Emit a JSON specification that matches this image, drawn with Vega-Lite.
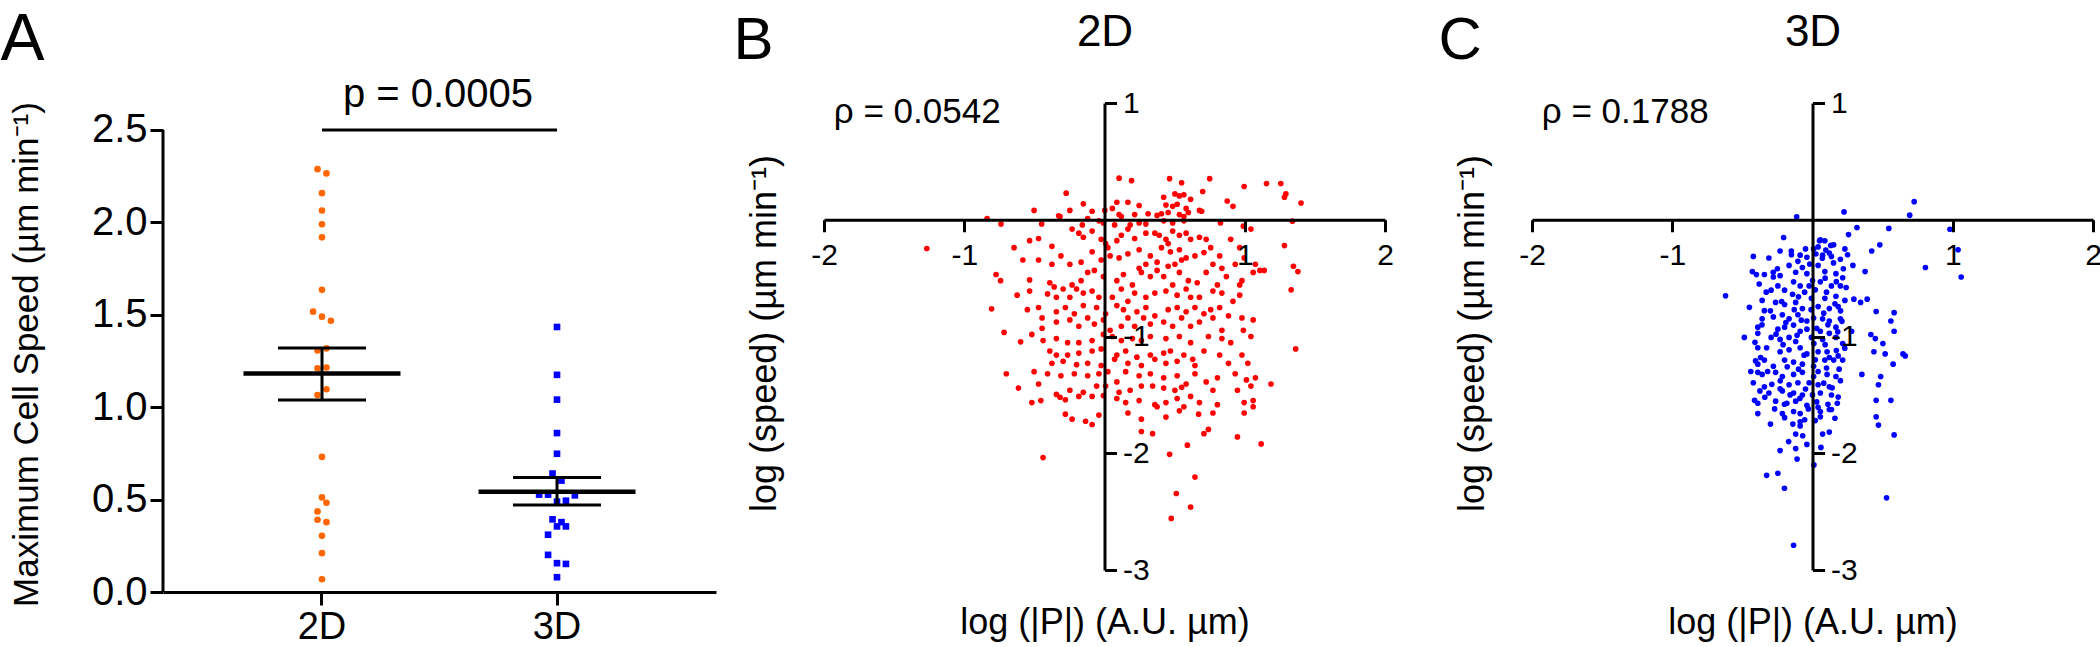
{
"$schema": "https://vega.github.io/schema/vega-lite/v6.json",
"padding": {"left": 0, "top": 6, "right": 0, "bottom": 0},
"autosize": {"type": "pad"},
"background": "white",
"spacing": 108,
"bounds": "flush",
"config": {
  "font": "Liberation Sans",
  "view": {"stroke": null},
  "axis": {"grid": false, "domainColor": "#000", "tickColor": "#000", "labelColor": "#000", "titleColor": "#000", "domainWidth": 3, "tickWidth": 3, "titleFontWeight": "normal", "labelFlush": false, "labelOverlap": false}
},
"datasets": {
  "speeds": [
    {"group":"2D","speed":2.288,"slot":-1},{"group":"2D","speed":2.265,"slot":1},{"group":"2D","speed":2.158,"slot":0},{"group":"2D","speed":2.064,"slot":0},{"group":"2D","speed":1.99,"slot":0},{"group":"2D","speed":1.919,"slot":0},{"group":"2D","speed":1.635,"slot":0},{"group":"2D","speed":1.517,"slot":-2},{"group":"2D","speed":1.49,"slot":0},{"group":"2D","speed":1.468,"slot":2},{"group":"2D","speed":1.307,"slot":-1},{"group":"2D","speed":1.318,"slot":1},{"group":"2D","speed":1.211,"slot":-1},{"group":"2D","speed":1.215,"slot":1},{"group":"2D","speed":1.097,"slot":1},{"group":"2D","speed":1.066,"slot":-1},{"group":"2D","speed":0.731,"slot":0},{"group":"2D","speed":0.512,"slot":0},{"group":"2D","speed":0.483,"slot":1},{"group":"2D","speed":0.436,"slot":-1},{"group":"2D","speed":0.391,"slot":-1},{"group":"2D","speed":0.378,"slot":1},{"group":"2D","speed":0.304,"slot":0},{"group":"2D","speed":0.21,"slot":0},{"group":"2D","speed":0.069,"slot":0},
    {"group":"3D","speed":1.434,"slot":0},{"group":"3D","speed":1.175,"slot":0},{"group":"3D","speed":1.041,"slot":0},{"group":"3D","speed":0.86,"slot":0},{"group":"3D","speed":0.748,"slot":0},{"group":"3D","speed":0.641,"slot":-1},{"group":"3D","speed":0.603,"slot":1},{"group":"3D","speed":0.527,"slot":-4},{"group":"3D","speed":0.527,"slot":-2},{"group":"3D","speed":0.523,"slot":4},{"group":"3D","speed":0.489,"slot":0},{"group":"3D","speed":0.494,"slot":2},{"group":"3D","speed":0.393,"slot":-1},{"group":"3D","speed":0.378,"slot":1},{"group":"3D","speed":0.355,"slot":0},{"group":"3D","speed":0.355,"slot":2},{"group":"3D","speed":0.31,"slot":-2},{"group":"3D","speed":0.201,"slot":-2},{"group":"3D","speed":0.156,"slot":0},{"group":"3D","speed":0.152,"slot":2},{"group":"3D","speed":0.08,"slot":0}
  ],
  "stats": [
    {"group":"2D","mean":1.182,"lo":1.039,"hi":1.32},
    {"group":"3D","mean":0.543,"lo":0.471,"hi":0.619}
  ],
  "sig": [{"from":"2D","to":"3D","level":2.5,"label":"p = 0.0005"}],
  "b2d": [
    {"lp":0.104,"ls":0.356},{"lp":0.193,"ls":0.335},{"lp":0.464,"ls":0.352},{"lp":0.55,"ls":0.317},{"lp":0.75,"ls":0.352},{"lp":1.155,"ls":0.31},{"lp":1.257,"ls":0.31},{"lp":0.996,"ls":0.285},{"lp":1.293,"ls":0.221},{"lp":1.401,"ls":0.143},{"lp":-0.273,"ls":0.228},{"lp":-0.151,"ls":0.136},{"lp":0.502,"ls":0.221},{"lp":0.534,"ls":0.204},{"lp":0.566,"ls":0.214},{"lp":0.422,"ls":0.193},{"lp":0.7,"ls":0.242},{"lp":0.614,"ls":0.175},{"lp":0.875,"ls":0.161},{"lp":0.916,"ls":0.115},{"lp":0.088,"ls":0.15},{"lp":0.167,"ls":0.15},{"lp":0.056,"ls":0.097},{"lp":0.247,"ls":0.122},{"lp":0.438,"ls":0.126},{"lp":0.486,"ls":0.115},{"lp":0.518,"ls":0.133},{"lp":0.582,"ls":0.097},{"lp":0.677,"ls":0.08},{"lp":0.693,"ls":0.073},{"lp":-0.502,"ls":0.08},{"lp":-0.327,"ls":0.034},{"lp":-0.247,"ls":0.08},{"lp":-0.088,"ls":0.073},{"lp":0.002,"ls":0.08},{"lp":0.104,"ls":0.044},{"lp":0.12,"ls":0.027},{"lp":0.215,"ls":0.044},{"lp":0.311,"ls":0.051},{"lp":0.375,"ls":0.037},{"lp":0.406,"ls":0.051},{"lp":0.454,"ls":0.062},{"lp":0.534,"ls":0.044},{"lp":0.566,"ls":0.027},{"lp":0.598,"ls":0.062},
    {"lp":-0.837,"ls":0.009},{"lp":-0.738,"ls":-0.037},{"lp":-0.448,"ls":-0.037},{"lp":-0.317,"ls":0.027},{"lp":-0.158,"ls":-0.044},{"lp":-0.12,"ls":0.009},{"lp":-0.04,"ls":-0.009},{"lp":-0.008,"ls":-0.027},{"lp":0.072,"ls":-0.044},{"lp":0.183,"ls":-0.044},{"lp":0.247,"ls":-0.027},{"lp":0.295,"ls":-0.037},{"lp":0.422,"ls":-0.009},{"lp":0.486,"ls":-0.027},{"lp":0.566,"ls":-0.009},{"lp":0.827,"ls":-0.027},{"lp":0.99,"ls":-0.055},{"lp":1.044,"ls":-0.08},{"lp":1.34,"ls":-0.012},{"lp":1.283,"ls":0.193},
    {"lp":-1.267,"ls":-0.246},{"lp":-0.645,"ls":-0.239},{"lp":-0.534,"ls":-0.179},{"lp":-0.47,"ls":-0.161},{"lp":-0.375,"ls":-0.228},{"lp":-0.231,"ls":-0.08},{"lp":-0.183,"ls":-0.115},{"lp":-0.151,"ls":-0.15},{"lp":-0.088,"ls":-0.097},{"lp":-0.024,"ls":-0.168},{"lp":0.008,"ls":-0.204},{"lp":0.024,"ls":-0.239},{"lp":0.088,"ls":-0.179},{"lp":0.12,"ls":-0.133},{"lp":0.167,"ls":-0.08},{"lp":0.215,"ls":-0.161},{"lp":0.295,"ls":-0.115},{"lp":0.359,"ls":-0.115},{"lp":0.39,"ls":-0.133},{"lp":0.438,"ls":-0.168},{"lp":0.454,"ls":-0.204},{"lp":0.486,"ls":-0.097},{"lp":0.534,"ls":-0.133},{"lp":0.582,"ls":-0.115},{"lp":0.614,"ls":-0.168},{"lp":0.677,"ls":-0.15},{"lp":0.725,"ls":-0.168},{"lp":0.757,"ls":-0.239},{"lp":0.821,"ls":-0.31},{"lp":0.9,"ls":-0.168},{"lp":0.964,"ls":-0.239},{"lp":1.076,"ls":-0.381},{"lp":1.139,"ls":-0.434},{"lp":1.283,"ls":-0.221},{"lp":1.347,"ls":-0.398},{"lp":1.379,"ls":-0.444},{"lp":0.04,"ls":-0.31},{"lp":0.104,"ls":-0.327},{"lp":0.167,"ls":-0.292},{"lp":0.247,"ls":-0.257},{"lp":0.327,"ls":-0.31},{"lp":0.406,"ls":-0.239},{"lp":0.47,"ls":-0.274},{"lp":0.534,"ls":-0.257},{"lp":0.582,"ls":-0.327},{"lp":0.645,"ls":-0.31},{"lp":0.709,"ls":-0.281},{"lp":0.773,"ls":-0.381},{"lp":0.837,"ls":-0.416},{"lp":0.932,"ls":-0.381},{"lp":0.996,"ls":-0.327},{"lp":-0.582,"ls":-0.345},{"lp":-0.47,"ls":-0.345},{"lp":-0.375,"ls":-0.381},{"lp":-0.311,"ls":-0.31},{"lp":-0.247,"ls":-0.381},{"lp":-0.167,"ls":-0.363},{"lp":-0.088,"ls":-0.274},{"lp":-0.024,"ls":-0.345},{"lp":0.247,"ls":-0.416},{"lp":0.295,"ls":-0.381},{"lp":0.375,"ls":-0.363},{"lp":0.454,"ls":-0.398},{"lp":0.502,"ls":-0.381},{"lp":0.55,"ls":-0.345},
    {"lp":-0.773,"ls":-0.469},{"lp":-0.741,"ls":-0.522},{"lp":-0.534,"ls":-0.515},{"lp":-0.39,"ls":-0.54},{"lp":-0.359,"ls":-0.575},{"lp":-0.295,"ls":-0.593},{"lp":-0.231,"ls":-0.558},{"lp":-0.167,"ls":-0.522},{"lp":-0.12,"ls":-0.451},{"lp":-0.072,"ls":-0.434},{"lp":-0.008,"ls":-0.487},{"lp":0.088,"ls":-0.522},{"lp":0.135,"ls":-0.469},{"lp":0.199,"ls":-0.558},{"lp":0.263,"ls":-0.451},{"lp":0.327,"ls":-0.487},{"lp":0.375,"ls":-0.434},{"lp":0.422,"ls":-0.487},{"lp":0.486,"ls":-0.558},{"lp":0.534,"ls":-0.451},{"lp":0.598,"ls":-0.522},{"lp":0.661,"ls":-0.54},{"lp":0.725,"ls":-0.451},{"lp":0.805,"ls":-0.558},{"lp":0.869,"ls":-0.487},{"lp":0.964,"ls":-0.558},{"lp":0.98,"ls":-0.522},{"lp":1.06,"ls":-0.451},{"lp":1.108,"ls":-0.434},{"lp":1.331,"ls":-0.6},{"lp":-0.623,"ls":-0.646},{"lp":-0.534,"ls":-0.611},{"lp":-0.406,"ls":-0.635},{"lp":-0.343,"ls":-0.664},{"lp":-0.247,"ls":-0.664},{"lp":-0.199,"ls":-0.593},{"lp":-0.151,"ls":-0.628},{"lp":-0.088,"ls":-0.611},{"lp":-0.04,"ls":-0.664},{"lp":0.056,"ls":-0.664},{"lp":0.12,"ls":-0.593},{"lp":0.167,"ls":-0.699},{"lp":0.215,"ls":-0.628},{"lp":0.295,"ls":-0.664},{"lp":0.359,"ls":-0.628},{"lp":0.438,"ls":-0.611},{"lp":0.518,"ls":-0.646},{"lp":0.582,"ls":-0.593},{"lp":0.614,"ls":-0.664},{"lp":0.677,"ls":-0.664},{"lp":0.773,"ls":-0.611},{"lp":0.837,"ls":-0.628},{"lp":0.916,"ls":-0.699},{"lp":0.964,"ls":-0.646},{"lp":-0.805,"ls":-0.763},{"lp":-0.55,"ls":-0.77},{"lp":-0.47,"ls":-0.752},{"lp":-0.343,"ls":-0.788},{"lp":-0.279,"ls":-0.752},{"lp":-0.215,"ls":-0.805},{"lp":-0.151,"ls":-0.735},{"lp":-0.056,"ls":-0.752},{"lp":0.008,"ls":-0.805},{"lp":0.088,"ls":-0.735},{"lp":0.135,"ls":-0.77},{"lp":0.231,"ls":-0.788},{"lp":0.295,"ls":-0.752},{"lp":0.359,"ls":-0.823},{"lp":0.454,"ls":-0.77},{"lp":0.518,"ls":-0.752},{"lp":0.582,"ls":-0.788},{"lp":0.645,"ls":-0.752},{"lp":0.709,"ls":-0.805},{"lp":0.757,"ls":-0.77},{"lp":0.821,"ls":-0.752},{"lp":0.884,"ls":-0.823},
    {"lp":-0.716,"ls":-0.965},{"lp":-0.598,"ls":-1.046},{"lp":-0.445,"ls":-0.841},{"lp":-0.445,"ls":-0.929},{"lp":-0.343,"ls":-0.876},{"lp":-0.247,"ls":-0.858},{"lp":-0.183,"ls":-0.912},{"lp":-0.12,"ls":-0.841},{"lp":-0.072,"ls":-0.894},{"lp":-0.008,"ls":-0.858},{"lp":0.04,"ls":-0.947},{"lp":0.12,"ls":-0.912},{"lp":0.167,"ls":-0.841},{"lp":0.215,"ls":-0.912},{"lp":0.279,"ls":-0.841},{"lp":0.327,"ls":-0.894},{"lp":0.422,"ls":-0.876},{"lp":0.486,"ls":-0.912},{"lp":0.55,"ls":-0.841},{"lp":0.614,"ls":-0.912},{"lp":0.677,"ls":-0.876},{"lp":0.773,"ls":-0.841},{"lp":0.837,"ls":-0.947},{"lp":0.98,"ls":-0.841},{"lp":1.06,"ls":-0.858},{"lp":1.044,"ls":-1.0},{"lp":0.99,"ls":-0.947},{"lp":-0.518,"ls":-0.982},{"lp":-0.438,"ls":-1.035},{"lp":-0.343,"ls":-1.018},{"lp":-0.263,"ls":-1.053},{"lp":-0.183,"ls":-1.053},{"lp":-0.088,"ls":-1.035},{"lp":-0.008,"ls":-0.982},{"lp":0.056,"ls":-1.0},{"lp":0.12,"ls":-1.035},{"lp":0.199,"ls":-1.018},{"lp":0.263,"ls":-1.035},{"lp":0.327,"ls":-1.0},{"lp":0.438,"ls":-1.018},{"lp":0.534,"ls":-1.0},{"lp":0.614,"ls":-1.053},{"lp":0.741,"ls":-1.0},{"lp":0.837,"ls":-1.018},{"lp":0.9,"ls":-1.053},{"lp":1.363,"ls":-1.106},{"lp":-0.39,"ls":-1.124},{"lp":-0.343,"ls":-1.159},{"lp":-0.263,"ls":-1.159},{"lp":-0.183,"ls":-1.142},{"lp":-0.088,"ls":-1.124},{"lp":-0.024,"ls":-1.106},{"lp":0.088,"ls":-1.159},{"lp":0.151,"ls":-1.124},{"lp":0.231,"ls":-1.177},{"lp":0.327,"ls":-1.159},{"lp":0.422,"ls":-1.142},{"lp":0.47,"ls":-1.124},{"lp":0.566,"ls":-1.159},{"lp":0.629,"ls":-1.195},{"lp":0.709,"ls":-1.124},{"lp":0.821,"ls":-1.159},{"lp":0.98,"ls":-1.159},{"lp":1.022,"ls":-1.23},{"lp":-0.375,"ls":-1.23},{"lp":-0.295,"ls":-1.212},{"lp":-0.199,"ls":-1.241},{"lp":-0.12,"ls":-1.23},{"lp":-0.024,"ls":-1.248},{"lp":0.072,"ls":-1.195},{"lp":0.167,"ls":-1.23},{"lp":0.263,"ls":-1.248},{"lp":0.359,"ls":-1.195},{"lp":0.438,"ls":-1.23},{"lp":0.518,"ls":-1.212},{"lp":0.645,"ls":-1.248},{"lp":0.884,"ls":-1.23},
    {"lp":-0.7,"ls":-1.319},{"lp":-0.502,"ls":-1.301},{"lp":-0.406,"ls":-1.319},{"lp":-0.311,"ls":-1.336},{"lp":-0.215,"ls":-1.319},{"lp":-0.12,"ls":-1.336},{"lp":-0.04,"ls":-1.319},{"lp":0.024,"ls":-1.301},{"lp":0.088,"ls":-1.389},{"lp":0.151,"ls":-1.301},{"lp":0.247,"ls":-1.336},{"lp":0.327,"ls":-1.319},{"lp":0.422,"ls":-1.354},{"lp":0.518,"ls":-1.336},{"lp":0.582,"ls":-1.407},{"lp":0.645,"ls":-1.319},{"lp":0.725,"ls":-1.389},{"lp":0.805,"ls":-1.354},{"lp":0.932,"ls":-1.319},{"lp":1.012,"ls":-1.372},{"lp":1.076,"ls":-1.354},{"lp":1.187,"ls":-1.407},{"lp":-0.614,"ls":-1.442},{"lp":-0.47,"ls":-1.407},{"lp":-0.343,"ls":-1.496},{"lp":-0.247,"ls":-1.46},{"lp":-0.151,"ls":-1.478},{"lp":-0.056,"ls":-1.425},{"lp":0.008,"ls":-1.425},{"lp":0.104,"ls":-1.478},{"lp":0.183,"ls":-1.46},{"lp":0.263,"ls":-1.425},{"lp":0.343,"ls":-1.425},{"lp":0.422,"ls":-1.442},{"lp":0.502,"ls":-1.46},{"lp":0.55,"ls":-1.435},{"lp":0.614,"ls":-1.513},{"lp":0.773,"ls":-1.46},{"lp":0.948,"ls":-1.46},{"lp":1.044,"ls":-1.425},{"lp":1.06,"ls":-1.549},{"lp":-0.518,"ls":-1.566},{"lp":-0.454,"ls":-1.549},{"lp":-0.317,"ls":-1.52},{"lp":-0.279,"ls":-1.542},{"lp":-0.183,"ls":-1.513},{"lp":-0.088,"ls":-1.513},{"lp":-0.008,"ls":-1.506},{"lp":0.088,"ls":-1.531},{"lp":0.151,"ls":-1.566},{"lp":0.247,"ls":-1.549},{"lp":0.359,"ls":-1.584},{"lp":0.438,"ls":-1.566},{"lp":0.518,"ls":-1.531},{"lp":0.566,"ls":-1.602},{"lp":0.677,"ls":-1.566},{"lp":0.805,"ls":-1.584},{"lp":0.996,"ls":-1.566},{"lp":1.06,"ls":-1.602},
    {"lp":-0.279,"ls":-1.665},{"lp":-0.231,"ls":-1.708},{"lp":-0.135,"ls":-1.726},{"lp":-0.088,"ls":-1.754},{"lp":-0.04,"ls":-1.673},{"lp":0.167,"ls":-1.655},{"lp":0.263,"ls":-1.708},{"lp":0.375,"ls":-1.602},{"lp":0.438,"ls":-1.69},{"lp":0.534,"ls":-1.637},{"lp":0.671,"ls":-1.665},{"lp":0.773,"ls":-1.655},{"lp":0.996,"ls":-1.655},{"lp":0.263,"ls":-1.814},{"lp":0.343,"ls":-1.832},{"lp":0.741,"ls":-1.796},{"lp":0.709,"ls":-1.832},{"lp":0.948,"ls":-1.86},{"lp":1.117,"ls":-1.92},{"lp":-0.438,"ls":-2.037},{"lp":0.464,"ls":-2.009},{"lp":0.591,"ls":-1.931},{"lp":0.645,"ls":-2.204},{"lp":0.512,"ls":-2.345},{"lp":0.614,"ls":-2.462},{"lp":0.476,"ls":-2.558}
  ],
  "c3d": [
    {"lp":0.725,"ls":0.155},{"lp":0.693,"ls":0.039},{"lp":0.225,"ls":0.067},{"lp":-0.113,"ls":0.025},{"lp":0.544,"ls":-0.074},{"lp":0.317,"ls":-0.067},{"lp":0.98,"ls":-0.081},{"lp":0.257,"ls":-0.127},{"lp":0.48,"ls":-0.215},{"lp":0.422,"ls":-0.268},{"lp":1.038,"ls":-0.257},{"lp":0.805,"ls":-0.409},{"lp":1.06,"ls":-0.49},
    {"lp":-0.206,"ls":-0.152},{"lp":0.056,"ls":-0.173},{"lp":0.088,"ls":-0.18},{"lp":0.151,"ls":-0.215},{"lp":0.231,"ls":-0.25},{"lp":0.008,"ls":-0.25},{"lp":0.04,"ls":-0.233},{"lp":0.095,"ls":-0.26},{"lp":0.12,"ls":-0.285},{"lp":-0.422,"ls":-0.314},{"lp":-0.231,"ls":-0.268},{"lp":-0.151,"ls":-0.268},{"lp":-0.311,"ls":-0.328},{"lp":-0.088,"ls":-0.303},{"lp":-0.04,"ls":-0.321},{"lp":0.024,"ls":-0.293},{"lp":0.072,"ls":-0.303},{"lp":0.135,"ls":-0.314},{"lp":0.199,"ls":-0.338},{"lp":0.288,"ls":-0.391},{"lp":0.375,"ls":-0.444},{"lp":-0.429,"ls":-0.444},{"lp":-0.343,"ls":-0.469},{"lp":-0.279,"ls":-0.49},{"lp":-0.231,"ls":-0.479},{"lp":-0.167,"ls":-0.391},{"lp":-0.104,"ls":-0.356},{"lp":-0.072,"ls":-0.409},{"lp":-0.04,"ls":-0.462},{"lp":0.04,"ls":-0.391},{"lp":0.088,"ls":-0.444},{"lp":0.167,"ls":-0.462},{"lp":0.215,"ls":-0.497},{"lp":-0.135,"ls":-0.532},{"lp":-0.088,"ls":-0.567},{"lp":-0.024,"ls":-0.567},{"lp":0.056,"ls":-0.532},{"lp":0.135,"ls":-0.567},{"lp":0.199,"ls":-0.567},{"lp":-0.295,"ls":-0.603},{"lp":-0.247,"ls":-0.567},{"lp":-0.199,"ls":-0.603},{"lp":-0.142,"ls":-0.638},{"lp":-0.056,"ls":-0.62},{"lp":-0.008,"ls":-0.673},{"lp":0.088,"ls":-0.673},{"lp":0.167,"ls":-0.655},{"lp":0.231,"ls":-0.691},{"lp":0.295,"ls":-0.68},{"lp":0.39,"ls":-0.68},{"lp":0.343,"ls":-0.708},{"lp":-0.62,"ls":-0.652},{"lp":-0.359,"ls":-0.691},{"lp":-0.263,"ls":-0.708},{"lp":-0.199,"ls":-0.726},{"lp":-0.12,"ls":-0.708},{"lp":-0.072,"ls":-0.761},{"lp":0.04,"ls":-0.744},{"lp":0.12,"ls":-0.761},{"lp":0.183,"ls":-0.744},{"lp":0.454,"ls":-0.786},{"lp":0.582,"ls":-0.796},{"lp":-0.343,"ls":-0.779},{"lp":-0.279,"ls":-0.832},{"lp":-0.359,"ls":-0.849},{"lp":-0.215,"ls":-0.814},{"lp":-0.167,"ls":-0.849},{"lp":-0.104,"ls":-0.814},{"lp":-0.04,"ls":-0.867},{"lp":0.008,"ls":-0.842},{"lp":0.072,"ls":-0.849},{"lp":0.12,"ls":-0.867},{"lp":0.199,"ls":-0.849},{"lp":0.559,"ls":-0.867},{"lp":-0.39,"ls":-0.92},{"lp":-0.247,"ls":-0.937},{"lp":-0.199,"ls":-0.92},{"lp":-0.135,"ls":-0.902},{"lp":-0.088,"ls":-0.955},{"lp":-0.04,"ls":-0.937},{"lp":0.056,"ls":-0.955},{"lp":0.12,"ls":-0.973},{"lp":0.167,"ls":-0.92},{"lp":0.279,"ls":-0.955},{"lp":0.416,"ls":-0.983},{"lp":0.448,"ls":-1.018},{"lp":0.582,"ls":-0.955},{"lp":-0.486,"ls":-1.008},{"lp":-0.39,"ls":-0.973},{"lp":-0.295,"ls":-1.008},{"lp":-0.231,"ls":-1.025},{"lp":-0.167,"ls":-1.008},{"lp":-0.12,"ls":-1.043},{"lp":-0.008,"ls":-1.008},{"lp":0.072,"ls":-1.025},{"lp":0.167,"ls":-1.008},{"lp":0.215,"ls":-1.061},{"lp":0.502,"ls":-1.061},{"lp":0.438,"ls":-1.131},{"lp":-0.39,"ls":-1.096},{"lp":-0.327,"ls":-1.096},{"lp":-0.231,"ls":-1.131},{"lp":-0.167,"ls":-1.114},{"lp":-0.088,"ls":-1.096},{"lp":-0.04,"ls":-1.149},{"lp":0.04,"ls":-1.131},{"lp":0.104,"ls":-1.131},{"lp":0.183,"ls":-1.166},{"lp":0.518,"ls":-1.149},{"lp":0.645,"ls":-1.149},{"lp":0.661,"ls":-1.166},{"lp":-0.406,"ls":-1.209},{"lp":-0.39,"ls":-1.237},{"lp":-0.343,"ls":-1.202},{"lp":-0.279,"ls":-1.255},{"lp":-0.199,"ls":-1.202},{"lp":-0.135,"ls":-1.219},{"lp":-0.072,"ls":-1.237},{"lp":0.008,"ls":-1.255},{"lp":0.088,"ls":-1.202},{"lp":0.151,"ls":-1.202},{"lp":0.215,"ls":-1.202},{"lp":0.575,"ls":-1.237},{"lp":-0.39,"ls":-1.307},{"lp":-0.359,"ls":-1.325},{"lp":-0.263,"ls":-1.307},{"lp":-0.215,"ls":-1.343},{"lp":-0.135,"ls":-1.325},{"lp":-0.072,"ls":-1.307},{"lp":0.008,"ls":-1.343},{"lp":0.104,"ls":-1.325},{"lp":0.167,"ls":-1.343},{"lp":0.352,"ls":-1.325},{"lp":0.486,"ls":-1.343},{"lp":-0.422,"ls":-1.396},{"lp":-0.343,"ls":-1.431},{"lp":-0.231,"ls":-1.448},{"lp":-0.167,"ls":-1.413},{"lp":-0.104,"ls":-1.396},{"lp":-0.024,"ls":-1.396},{"lp":0.04,"ls":-1.413},{"lp":0.12,"ls":-1.431},{"lp":0.199,"ls":-1.378},{"lp":0.47,"ls":-1.413},{"lp":-0.375,"ls":-1.466},{"lp":-0.311,"ls":-1.484},{"lp":-0.215,"ls":-1.466},{"lp":-0.135,"ls":-1.484},{"lp":-0.072,"ls":-1.501},{"lp":0.056,"ls":-1.484},{"lp":0.135,"ls":-1.501},{"lp":0.183,"ls":-1.519},{"lp":-0.413,"ls":-1.547},{"lp":-0.39,"ls":-1.572},{"lp":-0.263,"ls":-1.554},{"lp":-0.183,"ls":-1.572},{"lp":-0.12,"ls":-1.554},{"lp":-0.04,"ls":-1.589},{"lp":0.04,"ls":-1.607},{"lp":0.12,"ls":-1.625},{"lp":0.177,"ls":-1.572},{"lp":0.454,"ls":-1.547},{"lp":0.559,"ls":-1.547},{"lp":-0.39,"ls":-1.66},{"lp":-0.215,"ls":-1.66},{"lp":-0.135,"ls":-1.642},{"lp":-0.088,"ls":-1.66},{"lp":0.056,"ls":-1.642},{"lp":0.135,"ls":-1.625},{"lp":0.454,"ls":-1.688},{"lp":0.47,"ls":-1.759},{"lp":-0.199,"ls":-1.695},{"lp":-0.088,"ls":-1.73},{"lp":-0.056,"ls":-1.713},{"lp":0.056,"ls":-1.688},{"lp":-0.088,"ls":-1.766},{"lp":-0.12,"ls":-1.836},{"lp":0.072,"ls":-1.836},{"lp":0.12,"ls":-1.819},{"lp":0.582,"ls":-1.843},{"lp":-0.04,"ls":-1.924},{"lp":-0.231,"ls":-1.977},{"lp":-0.12,"ls":-1.96},{"lp":-0.327,"ls":-2.189},{"lp":-0.247,"ls":-2.171},{"lp":0.528,"ls":-2.382},{"lp":-0.135,"ls":-2.788},
    {"lp":-0.38,"ls":-0.55},{"lp":-0.33,"ls":-0.62},{"lp":-0.3,"ls":-0.78},{"lp":-0.36,"ls":-0.9},{"lp":-0.41,"ls":-1.05},{"lp":-0.37,"ls":-1.18},{"lp":-0.32,"ls":-1.3},{"lp":-0.29,"ls":-1.41},{"lp":-0.34,"ls":-1.52},{"lp":-0.27,"ls":-1.62},{"lp":-0.25,"ls":-0.42},{"lp":-0.22,"ls":-0.7},{"lp":-0.19,"ls":-0.88},{"lp":-0.26,"ls":-0.98},{"lp":-0.21,"ls":-1.07},{"lp":-0.18,"ls":-1.26},{"lp":-0.23,"ls":-1.38},{"lp":-0.16,"ls":-1.5},{"lp":-0.2,"ls":-1.58},{"lp":-0.14,"ls":-1.75},{"lp":-0.12,"ls":-0.45},{"lp":-0.1,"ls":-0.66},{"lp":-0.13,"ls":-0.77},{"lp":-0.08,"ls":-0.86},{"lp":-0.11,"ls":-0.99},{"lp":-0.06,"ls":-1.16},{"lp":-0.1,"ls":-1.28},{"lp":-0.05,"ls":-1.45},{"lp":-0.09,"ls":-1.53},{"lp":-0.03,"ls":-1.62},{"lp":-0.02,"ls":-0.38},{"lp":0.0,"ls":-0.52},{"lp":0.02,"ls":-0.6},{"lp":-0.01,"ls":-0.77},{"lp":0.03,"ls":-0.93},{"lp":0.01,"ls":-1.06},{"lp":0.02,"ls":-1.2},{"lp":0.04,"ls":-1.3},{"lp":0.0,"ls":-1.5},{"lp":0.03,"ls":-1.56},{"lp":0.07,"ls":-0.33},{"lp":0.09,"ls":-0.5},{"lp":0.1,"ls":-0.62},{"lp":0.08,"ls":-0.8},{"lp":0.11,"ls":-0.9},{"lp":0.09,"ls":-1.07},{"lp":0.12,"ls":-1.18},{"lp":0.1,"ls":-1.27},{"lp":0.08,"ls":-1.4},{"lp":0.11,"ls":-1.58},{"lp":0.15,"ls":-0.37},{"lp":0.17,"ls":-0.53},{"lp":0.16,"ls":-0.72},{"lp":0.18,"ls":-0.96},{"lp":0.17,"ls":-1.12},{"lp":0.19,"ls":-1.28},{"lp":0.14,"ls":-1.44},{"lp":0.2,"ls":-0.78},{"lp":0.22,"ls":-0.42},{"lp":0.24,"ls":-0.58},{"lp":0.21,"ls":-0.87},{"lp":0.23,"ls":-1.1},{"lp":0.25,"ls":-0.3},{"lp":-0.45,"ls":-0.75},{"lp":-0.44,"ls":-1.3},{"lp":-0.4,"ls":-0.47},{"lp":-0.05,"ls":-0.25},{"lp":0.05,"ls":-0.18},{"lp":-0.15,"ls":-0.3},{"lp":0.13,"ls":-0.22},{"lp":-0.28,"ls":-0.45},{"lp":0.02,"ls":-1.72},{"lp":-0.07,"ls":-1.85},{"lp":0.06,"ls":-1.95},{"lp":-0.17,"ls":-1.9},{"lp":-0.3,"ls":-1.75},{"lp":0.16,"ls":-1.7},{"lp":-0.11,"ls":-2.05},{"lp":0.01,"ls":-2.1},{"lp":-0.2,"ls":-2.3}
  ]
},
"hconcat": [
  {
    "width": 553, "height": 489,
    "resolve": {"axis": {"x": "independent", "y": "independent"}},
    "layer": [
      {
        "data": {"name": "speeds"},
        "mark": {"type": "point", "filled": true, "opacity": 1, "size": 44},
        "encoding": {
          "x": {"field": "group", "type": "nominal", "scale": {"type": "band", "domain": ["2D", "3D"], "paddingInner": 0, "paddingOuter": 0.1765},
                "axis": {"orient": "bottom", "title": null, "labelAngle": 0, "labelFontSize": 38, "labelPadding": 3, "tickSize": 13, "zindex": 1}},
          "xOffset": {"field": "slot", "type": "quantitative", "scale": {"domain": [-4, 4], "range": [99.65, 135.35]}},
          "y": {"field": "speed", "type": "quantitative", "scale": {"domain": [0, 2.646], "nice": false, "zero": false},
                "axis": {"orient": "left", "values": [0, 0.5, 1, 1.5, 2, 2.5], "format": ".1f", "domain": false, "tickSize": 13, "labelFontSize": 40, "labelPadding": 3,
                         "title": "Maximum Cell Speed (µm min⁻¹)", "titleFontSize": 35, "titleX": -125.5, "titleY": 251, "titleAngle": 270, "titleAlign": "center", "titleBaseline": "alphabetic"}},
          "color": {"field": "group", "type": "nominal", "scale": {"domain": ["2D", "3D"], "range": ["#FF6600", "#0000FF"]}, "legend": null},
          "shape": {"field": "group", "type": "nominal", "scale": {"domain": ["2D", "3D"], "range": ["circle", "square"]}, "legend": null}
        }
      },
      {
        "data": {"name": "stats"},
        "mark": {"type": "tick", "color": "#000", "size": 157, "thickness": 4.5, "opacity": 1},
        "encoding": {"x": {"field": "group", "type": "nominal", "axis": null}, "y": {"field": "mean", "type": "quantitative", "axis": null}}
      },
      {
        "data": {"name": "stats"},
        "mark": {"type": "rule", "color": "#000", "strokeWidth": 3},
        "encoding": {"x": {"field": "group", "type": "nominal", "axis": null}, "y": {"field": "lo", "type": "quantitative", "axis": null}, "y2": {"field": "hi"}}
      },
      {
        "data": {"name": "stats"},
        "mark": {"type": "tick", "color": "#000", "size": 88, "thickness": 3, "opacity": 1},
        "encoding": {"x": {"field": "group", "type": "nominal", "axis": null}, "y": {"field": "lo", "type": "quantitative", "axis": null}}
      },
      {
        "data": {"name": "stats"},
        "mark": {"type": "tick", "color": "#000", "size": 88, "thickness": 3, "opacity": 1},
        "encoding": {"x": {"field": "group", "type": "nominal", "axis": null}, "y": {"field": "hi", "type": "quantitative", "axis": null}}
      },
      {
        "data": {"values": [{}]},
        "mark": {"type": "rule", "color": "#000", "strokeWidth": 3},
        "encoding": {"x": {"value": 0}, "y": {"datum": 0, "type": "quantitative", "axis": null}, "y2": {"datum": 2.5}}
      },
      {
        "data": {"name": "sig"},
        "mark": {"type": "rule", "color": "#000", "strokeWidth": 3},
        "encoding": {"x": {"field": "from", "type": "nominal", "bandPosition": 0.5, "axis": null}, "x2": {"field": "to", "bandPosition": 0.5}, "y": {"field": "level", "type": "quantitative", "axis": null}}
      },
      {
        "data": {"name": "sig"},
        "mark": {"type": "text", "fontSize": 40, "dx": 116, "dy": -23, "align": "center", "baseline": "alphabetic", "color": "#000"},
        "encoding": {
          "x": {"field": "from", "type": "nominal", "axis": {"orient": "top", "domain": false, "ticks": false, "labels": false, "title": "A", "titleFontSize": 66, "titleX": -163, "titleY": -44, "titleAlign": "left", "titleBaseline": "alphabetic", "titleAngle": 0}},
          "y": {"field": "level", "type": "quantitative", "axis": null},
          "text": {"field": "label"}
        }
      }
    ]
  },
  {
    "spacing": 147,
    "bounds": "flush",
    "hconcat": [
      {
        "width": 561, "height": 467,
        "resolve": {"axis": {"x": "independent", "y": "independent"}},
        "layer": [
          {
            "data": {"name": "b2d"},
            "mark": {"type": "circle", "size": 32, "color": "#FF0000", "opacity": 1},
            "encoding": {
              "x": {"field": "lp", "type": "quantitative", "scale": {"domain": [-2, 2], "nice": false, "zero": false},
                    "axis": {"orient": "bottom", "offset": -350.25, "values": [-2, -1, 1, 2], "labelExpr": "(datum.value < 0 ? '-' : '') + abs(datum.value)", "tickSize": 12, "labelPadding": 9, "labelFontSize": 30, "zindex": 1,
                             "title": "log (|P|) (A.U. µm)", "titleFontSize": 36, "titleX": 280.5, "titleY": 414, "titleAlign": "center", "titleBaseline": "alphabetic", "titleAngle": 0}},
              "y": {"field": "ls", "type": "quantitative", "scale": {"domain": [-3, 1], "nice": false, "zero": false},
                    "axis": {"orient": "left", "domain": false, "ticks": false, "labels": false,
                             "title": "log (speed) (µm min⁻¹)", "titleFontSize": 36, "titleX": -48.5, "titleY": 230, "titleAngle": 270, "titleAlign": "center", "titleBaseline": "alphabetic"}}
            }
          },
          {
            "data": {"values": [{"rho": "ρ = 0.0542"}]},
            "mark": {"type": "text", "fontSize": 35, "align": "left", "baseline": "alphabetic", "color": "#000"},
            "encoding": {
              "x": {"datum": -1.93, "type": "quantitative", "axis": {"orient": "top", "domain": false, "ticks": false, "labels": false, "title": "B", "titleFontSize": 60, "titleX": -91, "titleY": -45, "titleAlign": "left", "titleBaseline": "alphabetic", "titleAngle": 0}},
              "y": {"datum": 0.83, "type": "quantitative", "axis": {"orient": "right", "offset": -280.5, "values": [1, -1, -2, -3], "labelExpr": "(datum.value < 0 ? '-' : '') + abs(datum.value)", "tickSize": 12, "labelPadding": 6, "labelFontSize": 30, "title": null, "zindex": 1}},
              "text": {"field": "rho"}
            }
          },
          {
            "data": {"values": [{"rho": ""}]},
            "mark": {"type": "text", "fontSize": 10},
            "encoding": {
              "x": {"datum": 0, "type": "quantitative", "axis": {"orient": "top", "domain": false, "ticks": false, "labels": false, "title": "2D", "titleFontSize": 44, "titleX": 280.5, "titleY": -57.5, "titleAlign": "center", "titleBaseline": "alphabetic", "titleAngle": 0}},
              "y": {"datum": 0, "type": "quantitative", "axis": null},
              "text": {"field": "rho"}
            }
          }
        ]
      },
      {
        "width": 561, "height": 467,
        "resolve": {"axis": {"x": "independent", "y": "independent"}},
        "layer": [
          {
            "data": {"name": "c3d"},
            "mark": {"type": "circle", "size": 32, "color": "#0000FF", "opacity": 1},
            "encoding": {
              "x": {"field": "lp", "type": "quantitative", "scale": {"domain": [-2, 2], "nice": false, "zero": false},
                    "axis": {"orient": "bottom", "offset": -350.25, "values": [-2, -1, 1, 2], "labelExpr": "(datum.value < 0 ? '-' : '') + abs(datum.value)", "tickSize": 12, "labelPadding": 9, "labelFontSize": 30, "zindex": 1,
                             "title": "log (|P|) (A.U. µm)", "titleFontSize": 36, "titleX": 280.5, "titleY": 414, "titleAlign": "center", "titleBaseline": "alphabetic", "titleAngle": 0}},
              "y": {"field": "ls", "type": "quantitative", "scale": {"domain": [-3, 1], "nice": false, "zero": false},
                    "axis": {"orient": "left", "domain": false, "ticks": false, "labels": false,
                             "title": "log (speed) (µm min⁻¹)", "titleFontSize": 36, "titleX": -48.5, "titleY": 230, "titleAngle": 270, "titleAlign": "center", "titleBaseline": "alphabetic"}}
            }
          },
          {
            "data": {"values": [{"rho": "ρ = 0.1788"}]},
            "mark": {"type": "text", "fontSize": 35, "align": "left", "baseline": "alphabetic", "color": "#000"},
            "encoding": {
              "x": {"datum": -1.93, "type": "quantitative", "axis": {"orient": "top", "domain": false, "ticks": false, "labels": false, "title": "C", "titleFontSize": 60, "titleX": -94, "titleY": -45, "titleAlign": "left", "titleBaseline": "alphabetic", "titleAngle": 0}},
              "y": {"datum": 0.83, "type": "quantitative", "axis": {"orient": "right", "offset": -280.5, "values": [1, -1, -2, -3], "labelExpr": "(datum.value < 0 ? '-' : '') + abs(datum.value)", "tickSize": 12, "labelPadding": 6, "labelFontSize": 30, "title": null, "zindex": 1}},
              "text": {"field": "rho"}
            }
          },
          {
            "data": {"values": [{"rho": ""}]},
            "mark": {"type": "text", "fontSize": 10},
            "encoding": {
              "x": {"datum": 0, "type": "quantitative", "axis": {"orient": "top", "domain": false, "ticks": false, "labels": false, "title": "3D", "titleFontSize": 44, "titleX": 280.5, "titleY": -57.5, "titleAlign": "center", "titleBaseline": "alphabetic", "titleAngle": 0}},
              "y": {"datum": 0, "type": "quantitative", "axis": null},
              "text": {"field": "rho"}
            }
          }
        ]
      }
    ]
  }
]
}
